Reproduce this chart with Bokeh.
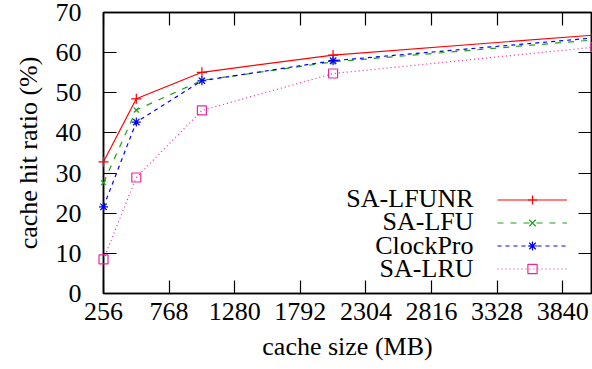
from bokeh.plotting import figure
from bokeh.models import Range1d, FixedTicker, LinearAxis, Legend, LegendItem, Label
from bokeh.embed import file_html
from bokeh.resources import INLINE

cache_size = [256, 512, 1024, 2048, 4096]
sa_lfunr = [32.8, 48.5, 55.1, 59.4, 64.4]
sa_lfu = [27.6, 45.7, 53.1, 57.7, 63.2]
clockpro = [21.6, 42.7, 53.0, 58.0, 63.7]
sa_lru = [8.5, 28.9, 45.6, 54.8, 61.4]
series_names = ["SA-LFUNR", "SA-LFU", "ClockPro", "SA-LRU"]
x_ticks = [256, 768, 1280, 1792, 2304, 2816, 3328, 3840]
y_ticks = [0, 10, 20, 30, 40, 50, 60, 70]

FONT = "Liberation Serif"
FS = "26px"

p = figure(width=592, height=369, output_backend="svg", toolbar_location=None,
           x_range=Range1d(256, 4065), y_range=Range1d(0, 70),
           min_border_left=103, min_border_right=1, min_border_top=12, min_border_bottom=76)
p.background_fill_color = "white"
p.border_fill_color = "white"
p.xgrid.visible = False
p.ygrid.visible = False
p.outline_line_color = "black"
p.outline_line_width = 1.5


def base_axis(ax, ticks):
    ax.ticker = FixedTicker(ticks=ticks)
    ax.major_tick_in = 13
    ax.major_tick_out = 0
    ax.minor_tick_line_color = None
    ax.axis_line_color = "black"
    ax.axis_line_width = 1.5
    ax.major_tick_line_color = "black"
    ax.major_tick_line_width = 1.2
    ax.major_label_text_font = FONT
    ax.axis_label_text_font = FONT


for ax, ticks in ((p.xaxis[0], x_ticks), (p.yaxis[0], y_ticks)):
    base_axis(ax, ticks)
    ax.major_label_text_font_size = FS
    ax.major_label_text_color = "black"
    ax.axis_label_text_font_size = FS
    ax.axis_label_text_font_style = "normal"
    ax.axis_label_text_color = "black"

p.xaxis[0].axis_label = "cache size (MB)"
p.yaxis[0].axis_label = "cache hit ratio (%)"
p.xaxis[0].major_label_standoff = 9
p.xaxis[0].axis_label_standoff = 9
p.yaxis[0].major_label_standoff = 22
p.yaxis[0].axis_label_standoff = 10

for loc, ticks in (("above", x_ticks), ("right", y_ticks)):
    ax = LinearAxis()
    base_axis(ax, ticks)
    ax.major_label_overrides = {t: "" for t in ticks}
    ax.major_label_standoff = 0
    p.add_layout(ax, loc)

colors = ["#ff0000", "#1fa01f", "#0000ff", "#e8289c"]
dashes = ["solid", "6 7", "4 4", "1 3"]
markers = ["cross", "x", "asterisk", "square"]
sizes = [10, 7, 9, 9]
data = [sa_lfunr, sa_lfu, clockpro, sa_lru]

items = []
for name, ys, c, d, m, s in zip(series_names, data, colors, dashes, markers, sizes):
    r1 = p.line(cache_size, ys, line_color=c, line_dash=d, line_width=1.2)
    r2 = p.scatter(cache_size, ys, marker=m, size=s, line_color=c, fill_color=None,
                   line_width=1.2, level="overlay")
    items.append(LegendItem(label=" ", renderers=[r1, r2]))

legend = Legend(items=items, location=(394, 13), glyph_width=70, glyph_height=23,
                label_height=23, label_width=0, label_standoff=0, spacing=0,
                padding=0, margin=0, border_line_color=None, background_fill_alpha=0,
                label_text_font=FONT, label_text_font_size="1px", label_text_alpha=0)
p.add_layout(legend, "center")

row_y = [95, 71.6, 48.3, 25]
for name, yy in zip(series_names, row_y):
    p.add_layout(Label(x=370, y=yy, x_units="screen", y_units="screen", text=name,
                       text_align="right", text_baseline="middle",
                       text_font=FONT, text_font_size=FS, text_color="black"))

open("out.html", "w").write(file_html(p, INLINE))
